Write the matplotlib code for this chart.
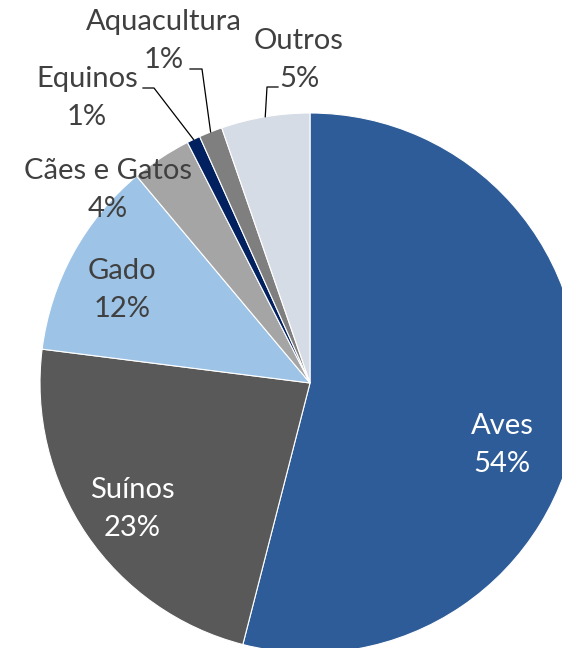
import numpy as np
import matplotlib
matplotlib.use("Agg")
import matplotlib.pyplot as plt

plt.rcParams['font.family'] = ['Lato', 'DejaVu Sans']

# Data (share in %)
categories = ["Aves", "Suínos", "Gado", "Cães e Gatos", "Equinos", "Aquacultura", "Outros"]
shares = [54.0, 23.0, 11.9, 3.6, 0.8, 1.4, 5.3]
colors = ["#2E5C98", "#595959", "#9DC3E6", "#A5A5A5", "#002060", "#7F7F7F", "#D6DCE5"]
text_colors = ["white", "white", "#404040", "#404040", "#404040", "#404040", "#404040"]

W, H = 562, 648
# label centres in pixels (from top-left), and leader elbows (None = no leader)
label_pos = [(502, 445), (132, 509), (122, 290), (108, 190), (87, 98), (164, 41), (299, 60)]
elbows = [None, None, None, None, ((143, 88), (154, 88)),
          ((190, 69), (202, 69)), ((278, 87), (267, 87))]

cx, cy, R = 310, 383, 270

fig = plt.figure(figsize=(W / 100, H / 100), dpi=100)
ax = fig.add_axes([0, 0, 1, 1])

wedges, _ = ax.pie(shares, colors=colors, startangle=90, counterclock=False,
                   center=(cx, H - cy), radius=R,
                   wedgeprops=dict(edgecolor='white', linewidth=0.8))
ax.set_xlim(0, W)
ax.set_ylim(0, H)
ax.set_aspect('equal')
ax.axis('off')

for i, w in enumerate(wedges):
    pct = round(shares[i] / sum(shares) * 100)
    lx, ly = label_pos[i]
    ax.text(lx, H - ly, "%s\n%d%%" % (categories[i], pct), ha='center', va='center',
            fontsize=21, color=text_colors[i], linespacing=1.58)
    if elbows[i] is not None:
        mid = np.deg2rad((w.theta1 + w.theta2) / 2)
        px = cx + R * np.cos(mid)
        py = (H - cy) + R * np.sin(mid)
        (x0, y0), (x1, y1) = elbows[i]
        ax.plot([x0, x1, px], [H - y0, H - y1, py], color='black', lw=0.9)

fig.savefig("out.png", dpi=100)
